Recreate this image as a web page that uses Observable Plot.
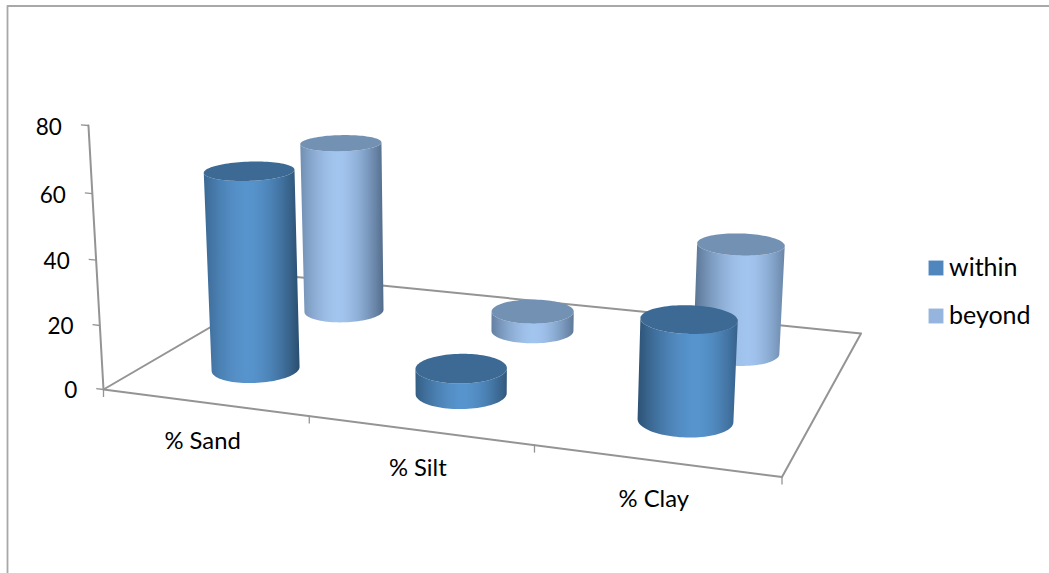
<!DOCTYPE html>
<html>
<head>
<meta charset="utf-8">
<script src="https://cdn.jsdelivr.net/npm/d3@7"></script>
<script src="https://cdn.jsdelivr.net/npm/@observablehq/plot@0.6"></script>
<style>
  html, body { margin: 0; padding: 0; background: #fff; }
  svg { display: block; }
</style>
</head>
<body>
<div id="chart"></div>
<script>
// Soil texture percentages by zone
const categories = ["% Sand", "% Silt", "% Clay"];
const within = [62.3, 7.8, 29.9];
const beyond = [58.2, 6.6, 35.2];
const seriesNames = ["within", "beyond"];
const valueTicks = [0, 20, 40, 60, 80];

const W = 1049, H = 573;
const FONT = "Lato, 'Open Sans', sans-serif";

// Perspective of the chart box: floor corners on screen, and the point where verticals meet.
const corner = {a: [103, 389], b: [781.5, 476.5], c: [860.5, 333], d: [296, 276.5]};
const vanish = [462, 6689];
const axisTopValue = 80, axisTopY = 125;

const floorMatrix = (() => {
  const {a, b, c, d} = corner;
  const dx1 = b[0] - c[0], dx2 = d[0] - c[0], sx = a[0] - b[0] + c[0] - d[0];
  const dy1 = b[1] - c[1], dy2 = d[1] - c[1], sy = a[1] - b[1] + c[1] - d[1];
  const det = dx1 * dy2 - dx2 * dy1;
  const g = (sx * dy2 - dx2 * sy) / det;
  const h = (dx1 * sy - sx * dy1) / det;
  return {
    g, h,
    xs: b[0] - a[0] + g * b[0], xt: d[0] - a[0] + h * d[0],
    ys: b[1] - a[1] + g * b[1], yt: d[1] - a[1] + h * d[1]
  };
})();
// Height factor chosen so the value axis reaches its top tick at the right place.
const heightK = (() => {
  const t = (axisTopY - corner.a[1]) / (vanish[1] - corner.a[1]);
  return t / (1 - t) / axisTopValue;
})();

// u: category position (0 to 3), v: depth (0 front to 1 back), value: height.
function project(u, v, value) {
  const m = floorMatrix, s = u / categories.length;
  const w = m.g * s + m.h * v + 1;
  const X = m.xs * s + m.xt * v + corner.a[0];
  const Y = m.ys * s + m.yt * v + corner.a[1];
  const q = value * heightK;
  return {x: (X + q * vanish[0]) / (w + q), y: (Y + q * vanish[1]) / (w + q)};
}

// Cylinder radii in floor units, giving a round base in the box's proportions.
const radiusU = 0.198, radiusV = 0.104;
const STEPS = 96;
const depthOf = {within: 0.25, beyond: 0.75};

const palette = {
  within: {light: "#5794cd", dark: "#274868", cap: "#3d6a94", swatch: "#4f86bd"},
  beyond: {light: "#a2c5ef", dark: "#4c6583", cap: "#7391b3", swatch: "#95b5de"}
};

// Side shading: highlight drifts right and the darker side swaps along the floor.
function shade(series, s, cu) {
  const k = cu / categories.length;
  const peak = 0.42 + 0.2 * k;
  const left = 0.5 + 0.45 * k, right = 1.0 - 0.4 * k;
  const t = s < peak ? (peak - s) / peak : (s - peak) / (1 - peak);
  const amount = Math.pow(t, 1.7) * (s < peak ? left : right);
  return d3.interpolateRgb(palette[series].light, palette[series].dark)(amount);
}

const bars = ["beyond", "within"].flatMap(series =>
  (series === "within" ? within : beyond).map((value, i) => ({series, value, cu: i + 0.5, cv: depthOf[series]}))
);

const bodies = [], caps = [];
bars.forEach((bar, n) => {
  const ring = level => d3.range(STEPS).map(j => {
    const th = (j / STEPS) * 2 * Math.PI;
    return project(bar.cu + radiusU * Math.cos(th), bar.cv + radiusV * Math.sin(th), level);
  });
  const low = ring(0), high = ring(bar.value);
  // A side facet is visible when it winds the viewer's way round.
  const facing = d3.range(STEPS).map(j => {
    const k = (j + 1) % STEPS;
    const quad = [low[j], low[k], high[k], high[j]];
    return d3.sum(quad, (p, i) => {
      const r = quad[(i + 1) % 4];
      return p.x * r.y - r.x * p.y;
    }) < 0;
  });
  const start = facing.findIndex((f, j) => f && !facing[(j + STEPS - 1) % STEPS]);
  const count = d3.sum(facing, f => (f ? 1 : 0));
  const run = d3.range(count + 1).map(i => (start + i) % STEPS);
  const outline = run.map(j => low[j]).concat(run.slice().reverse().map(j => high[j]));
  const fill = `url(#side-${n})`;
  outline.forEach(p => bodies.push({...p, id: n, fill}));
  high.forEach(p => caps.push({...p, id: n, colour: palette[bar.series].cap}));
});

// One left-to-right gradient per cylinder for its side.
function sideGradients() {
  const defs = d3.create("svg:defs");
  bars.forEach((bar, n) => {
    const g = defs.append("linearGradient").attr("id", `side-${n}`)
      .attr("x1", 0).attr("x2", 1).attr("y1", 0).attr("y2", 0);
    d3.range(0, 1.0001, 0.05).forEach(s => {
      g.append("stop").attr("offset", s).attr("stop-color", shade(bar.series, s, bar.cu));
    });
  });
  return defs.node();
}

const floorOutline = [[0, 0], [3, 0], [3, 1], [0, 1]].map(([u, v]) => project(u, v, 0));
const axisLine = [0, axisTopValue].map(value => project(0, 0, value));
const valueTickRows = valueTicks.map(value => {
  const from = project(0, 0, value), to = project(-0.037, 0, value);
  return {value, x1: from.x, y1: from.y, x2: to.x, y2: to.y};
});
const categoryTickRows = d3.range(categories.length + 1).map(u => project(u, 0, 0));
const categoryLabelRows = categories.map((name, i) => ({name, ...project(i + 0.5, 0, 0)}));

const frameRows = [{x: 7, y: H}, {x: 7, y: 5.5}, {x: W, y: 5.5}];
const legendRows = seriesNames.map((name, i) => ({name, x: 935.5, y: 267.5 + i * 48, colour: palette[name].swatch}));

const AXIS = "#949494";
const chart = Plot.plot({
  width: W, height: H,
  margin: 0,
  x: {domain: [0, W], range: [0, W], axis: null},
  y: {domain: [0, H], range: [0, H], axis: null},
  color: {type: "identity"},
  style: {background: "#fff"},
  marks: [
    sideGradients,
    Plot.line(frameRows, {x: "x", y: "y", stroke: "#a8a8a8", strokeWidth: 1.8}),
    Plot.line(floorOutline, {x: "x", y: "y", curve: "linear-closed", stroke: AXIS, strokeWidth: 2}),
    Plot.line(axisLine, {x: "x", y: "y", stroke: AXIS, strokeWidth: 2}),
    Plot.link(valueTickRows, {x1: "x1", y1: "y1", x2: "x2", y2: "y2", stroke: AXIS, strokeWidth: 1.3}),
    Plot.ruleX(categoryTickRows, {x: "x", y1: "y", y2: d => d.y + 8, stroke: AXIS, strokeWidth: 1.3}),
    Plot.text(valueTickRows, {
      x: "x2", y: "y2", text: d => String(d.value), textAnchor: "end", dx: -19, dy: 2.5,
      fontFamily: FONT, fontSize: 22.5, fill: "#000"
    }),
    Plot.text(categoryLabelRows, {
      x: "x", y: "y", text: "name", dx: -1.5, dy: 38.5, fontFamily: FONT, fontSize: 23.8, fill: "#000"
    }),
    // Each cylinder: its visible side with a gradient, then the cap on top.
    Plot.line(bodies, {x: "x", y: "y", z: "id", curve: "linear-closed", fill: "fill", stroke: "none"}),
    Plot.line(caps, {x: "x", y: "y", z: "id", curve: "linear-closed", fill: "colour", stroke: "none"}),
    Plot.dot(legendRows, {x: "x", y: "y", symbol: "square", r: 8.4, fill: "colour"}),
    Plot.text(legendRows, {
      x: "x", y: "y", text: "name", textAnchor: "start", dx: 13, dy: -0.5,
      fontFamily: FONT, fontSize: 25, fill: "#000"
    })
  ]
});
document.getElementById("chart").append(chart);
</script>
</body>
</html>
